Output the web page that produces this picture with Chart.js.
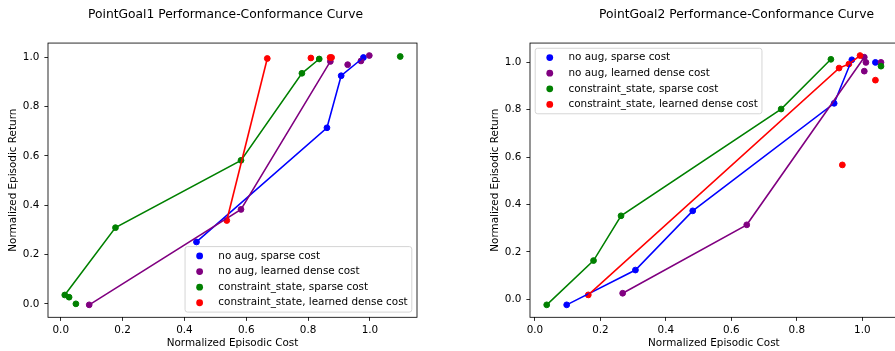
<!DOCTYPE html>
<html>
<head>
<meta charset="utf-8">
<title>Performance-Conformance Curves</title>
<script src="https://cdn.jsdelivr.net/npm/chart.js@4.4.1/dist/chart.umd.min.js"></script>
<style>
  html, body { margin: 0; padding: 0; background: #fff; }
  body { width: 895px; height: 351px; overflow: hidden; position: relative; }
  canvas { position: absolute; top: 0; }
  #chart-pg1 { left: 0; }
  #chart-pg2 { left: 451px; }
</style>
</head>
<body>
<canvas id="chart-pg1" width="451" height="351"></canvas>
<canvas id="chart-pg2" width="540" height="351"></canvas>
<script>
'use strict';

/* ================================================================
   Data: [normalized cost, normalized return].
   Scatter shows every run, the curve joins only the listed indices.
   ================================================================ */
const SERIES_LABELS = [
  'no aug, sparse cost',
  'no aug, learned dense cost',
  'constraint_state, sparse cost',
  'constraint_state, learned dense cost',
];
const SERIES_COLORS = ['blue', 'purple', 'green', 'red'];
const AXIS_TICKS = [0, 0.2, 0.4, 0.6, 0.8, 1.0];

// PointGoal1
const PG1_NOAUG_SPARSE = [[0.439, 0.251], [0.861, 0.714], [0.907, 0.925], [0.979, 0.999]];
const PG1_NOAUG_DENSE = [[0.092, -0.004], [0.583, 0.383], [0.872, 0.983], [0.928, 0.970], [0.971, 0.985], [0.998, 1.007]];
const PG1_CS_SPARSE = [[0.013, 0.036], [0.027, 0.027], [0.049, 0.000], [0.177, 0.309], [0.583, 0.582], [0.780, 0.935], [0.836, 0.993], [1.098, 1.003]];
const PG1_CS_DENSE = [[0.537, 0.338], [0.668, 0.995], [0.809, 0.997], [0.871, 0.999], [0.876, 0.999]];
const PG1_CURVES = [[0, 1, 2, 3], [0, 1, 2], [0, 3, 4, 5, 6], [0, 1]];

// PointGoal2
const PG2_NOAUG_SPARSE = [[0.097, -0.024], [0.307, 0.123], [0.482, 0.373], [0.914, 0.827], [0.968, 1.011], [1.040, 1.000]];
const PG2_NOAUG_DENSE = [[0.268, 0.025], [0.647, 0.314], [1.006, 1.022], [1.011, 1.000], [1.006, 0.963], [1.057, 1.000]];
const PG2_CS_SPARSE = [[0.036, -0.024], [0.179, 0.163], [0.263, 0.352], [0.752, 0.803], [0.904, 1.013], [1.057, 0.984]];
const PG2_CS_DENSE = [[0.163, 0.018], [0.929, 0.976], [0.959, 0.993], [0.993, 1.029], [0.939, 0.567], [1.040, 0.925]];
const PG2_CURVES = [[0, 1, 2, 3, 4], [0, 1, 2], [0, 1, 2, 3, 4], [0, 1, 2, 3]];

/* ── Look ──────────────────────────────────────────────────────── */
const INK = '#000';
const FONT = "'DejaVu Sans', sans-serif";
const FS = 10.4;          // 10pt at 75 dpi
const LW = 1.56;          // 1.5pt lines
const SPINE = 0.83;

Chart.defaults.font.family = FONT;
Chart.defaults.font.size = FS;
Chart.defaults.color = INK;

// matplotlib-like autoscale: 5% margin on both ends
function limits(series, k) {
  const vals = series.flat().map(p => p[k]);
  const lo = Math.min(...vals), hi = Math.max(...vals);
  const m = (hi - lo) * 0.05;
  return [lo - m, hi + m];
}

/* ── Plugins: four-sided frame and a matplotlib style legend ───── */
const frame = {
  id: 'frame',
  afterDraw(chart) {
    const { ctx, chartArea: a } = chart;
    ctx.save();
    ctx.strokeStyle = INK;
    ctx.lineWidth = SPINE;
    ctx.strokeRect(a.left, a.top, a.right - a.left, a.bottom - a.top);
    ctx.restore();
  },
};

const cornerLegend = {
  id: 'cornerLegend',
  afterDraw(chart, args, opts) {
    const { ctx, chartArea: a } = chart;
    const items = chart.data.datasets.filter(d => d.label);
    ctx.save();
    ctx.font = `${FS}px ${FONT}`;
    const textW = Math.max(...items.map(d => ctx.measureText(d.label).width));
    const pad = 0.4 * FS, handle = 2 * FS, gap = 0.8 * FS, rowH = FS, spacing = 0.5 * FS, axPad = 0.5 * FS;
    const w = pad * 2 + handle + gap + textW;
    const h = pad * 2 + items.length * rowH + (items.length - 1) * spacing;
    const x = opts.corner.includes('right') ? a.right - axPad - w : a.left + axPad;
    const y = opts.corner.includes('lower') ? a.bottom - axPad - h : a.top + axPad;

    const r = 2.5;
    ctx.beginPath();
    ctx.moveTo(x + r, y);
    ctx.arcTo(x + w, y, x + w, y + h, r);
    ctx.arcTo(x + w, y + h, x, y + h, r);
    ctx.arcTo(x, y + h, x, y, r);
    ctx.arcTo(x, y, x + w, y, r);
    ctx.closePath();
    ctx.fillStyle = 'rgba(255,255,255,0.8)';
    ctx.fill();
    ctx.strokeStyle = '#cccccc';
    ctx.lineWidth = SPINE;
    ctx.stroke();

    ctx.textBaseline = 'middle';
    ctx.textAlign = 'left';
    items.forEach((d, i) => {
      const cy = y + pad + rowH / 2 + i * (rowH + spacing);
      ctx.fillStyle = d.backgroundColor;
      ctx.beginPath();
      ctx.arc(x + pad + handle / 2, cy, d.pointRadius + 0.5, 0, Math.PI * 2);
      ctx.fill();
      ctx.fillStyle = INK;
      ctx.fillText(d.label, x + pad + handle + gap, cy);
    });
    ctx.restore();
  },
};

/* ── Chart builder ─────────────────────────────────────────────── */
function buildDatasets(series, curves) {
  // scatter collections sit under every line (matplotlib zorder 1 vs 2)
  const points = series.map((pts, i) => ({
    label: SERIES_LABELS[i],
    data: pts.map(([x, y]) => ({ x, y })),
    showLine: false,
    pointRadius: 2.9,
    pointBorderWidth: 1,
    backgroundColor: SERIES_COLORS[i],
    borderColor: SERIES_COLORS[i],
    order: 20 - i,
  }));
  const lines = series.map((pts, i) => ({
    data: curves[i].map(k => ({ x: pts[k][0], y: pts[k][1] })),
    showLine: true,
    pointRadius: 0,
    borderWidth: LW,
    borderColor: SERIES_COLORS[i],
    backgroundColor: SERIES_COLORS[i],
    order: 10 - i,
  }));
  return points.concat(lines);
}

function axis(range, title, isX) {
  return {
    type: 'linear',
    min: range[0],
    max: range[1],
    afterBuildTicks: s => { s.ticks = AXIS_TICKS.map(v => ({ value: v })); },
    afterFit: s => { if (isX) s.height = 33.7; else s.width = 48; },
    grid: { drawOnChartArea: false, drawTicks: true, tickLength: 3.6, tickWidth: SPINE, tickColor: INK },
    border: { display: false },
    ticks: {
      callback: v => v.toFixed(1),
      padding: isX ? 3.2 : 5.1,
      maxRotation: 0,
      autoSkip: false,
      color: INK,
    },
    title: {
      display: true,
      text: title,
      color: INK,
      padding: isX ? { top: 0, bottom: 1.5 } : { top: 7.1, bottom: 0 },
    },
  };
}

// empty right-hand box: keeps the title centred where the figure had it
function spacer(width) {
  return {
    type: 'linear',
    position: 'right',
    display: true,
    grid: { display: false },
    border: { display: false },
    ticks: { display: false },
    afterFit: s => { s.width = width; },
  };
}

function renderChart(id, title, series, curves, corner, padLeft, rightGap) {
  new Chart(document.getElementById(id), {
    type: 'scatter',
    data: { datasets: buildDatasets(series, curves) },
    options: {
      responsive: false,
      animation: false,
      events: [],
      layout: { padding: { left: padLeft, right: 0, top: 0, bottom: 0 } },
      plugins: {
        legend: { display: false },
        tooltip: { enabled: false },
        title: {
          display: true,
          text: title,
          color: INK,
          font: { size: 12.3, weight: 'normal' },
          padding: { top: 7.4, bottom: 20.9 },
        },
        cornerLegend: { corner },
      },
      scales: {
        x: axis(limits(series, 0), 'Normalized Episodic Cost', true),
        y: axis(limits(series, 1), 'Normalized Episodic Return', false),
        gap: spacer(rightGap),
      },
    },
    plugins: [frame, cornerLegend],
  });
}

renderChart('chart-pg1', 'PointGoal1 Performance-Conformance Curve',
  [PG1_NOAUG_SPARSE, PG1_NOAUG_DENSE, PG1_CS_SPARSE, PG1_CS_DENSE], PG1_CURVES,
  'lower right', 0, 34);

renderChart('chart-pg2', 'PointGoal2 Performance-Conformance Curve',
  [PG2_NOAUG_SPARSE, PG2_NOAUG_DENSE, PG2_CS_SPARSE, PG2_CS_DENSE], PG2_CURVES,
  'upper left', 31, 93.3);
</script>
</body>
</html>
